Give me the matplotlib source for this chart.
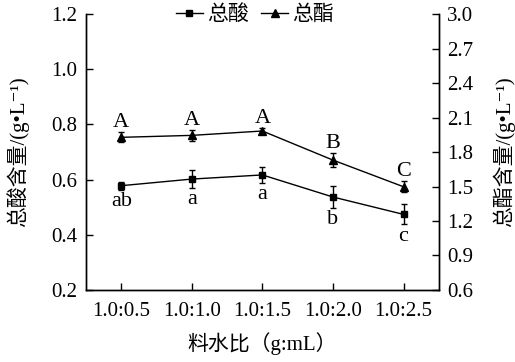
import matplotlib.pyplot as plt
import numpy as np

plt.rcParams['font.family'] = ['Liberation Serif', 'Noto Sans CJK SC', 'DejaVu Sans']

ratios = ["1.0:0.5", "1.0:1.0", "1.0:1.5", "1.0:2.0", "1.0:2.5"]
acid = [0.578, 0.602, 0.617, 0.537, 0.474]
acid_err = [0.015, 0.033, 0.030, 0.040, 0.036]
acid_letters = ["ab", "a", "a", "b", "c"]
ester = [1.928, 1.945, 1.983, 1.730, 1.498]
ester_err = [0.043, 0.050, 0.030, 0.060, 0.050]
ester_letters = ["A", "A", "A", "B", "C"]

x = np.arange(1, len(ratios) + 1)

fig = plt.figure(figsize=(5.15, 3.62), dpi=100)
ax = fig.add_axes([0.167, 0.199, 0.685, 0.762])
ax2 = ax.twinx()

l1 = ax.errorbar(x, acid, yerr=acid_err, color="black", marker="s", ms=5,
                 lw=1, capsize=2.5, elinewidth=1)
l2 = ax2.errorbar(x, ester, yerr=ester_err, color="black", marker="^", ms=6,
                  lw=1, capsize=2.5, elinewidth=1)

for xi, v, e, t in zip(x, acid, acid_err, acid_letters):
    ax.text(xi, v - e - 0.008, t, ha="center", va="top", fontsize=16)
for xi, v, e, t in zip(x, ester, ester_err, ester_letters):
    ax2.text(xi, v + e + 0.0, t, ha="center", va="bottom", fontsize=16)

ax.set_xlim(0.5, 5.5)
ax.set_ylim(0.2, 1.2)
ax.set_yticks(np.arange(0.2, 1.21, 0.2))
ax.set_yticklabels([f"{v:.1f}" for v in np.arange(0.2, 1.21, 0.2)])
ax2.set_ylim(0.6, 3.0)
ax2.set_yticks(np.arange(0.6, 3.01, 0.3))
ax2.set_yticklabels([f"{v:.1f}" for v in np.arange(0.6, 3.01, 0.3)])
ax.set_xticks(x)
ax.set_xticklabels(ratios)

for a in (ax, ax2):
    a.tick_params(direction="in", labelsize=15, length=5, width=1)
    a.spines["top"].set_visible(False)
    for s in a.spines.values():
        s.set_linewidth(1)
ax.tick_params(axis="x", pad=9)
ax.tick_params(axis="y", pad=6)
ax2.tick_params(axis="y", pad=6)

ax.set_xlabel("料水比（g:mL）", fontsize=15, labelpad=8)
ax.set_ylabel("总酸含量/(g•L⁻¹)", fontsize=15, labelpad=16)
ax2.set_ylabel("总酯含量/(g•L⁻¹)", fontsize=15, labelpad=14)

fig.legend(handles=[l1[0], l2[0]], labels=["总酸", "总酯"], loc="center",
           bbox_to_anchor=(0.495, 0.958), ncol=2, frameon=False, fontsize=15,
           handlelength=1.3, handletextpad=0.2, columnspacing=0.6)

fig.savefig("out.png", dpi=100)
